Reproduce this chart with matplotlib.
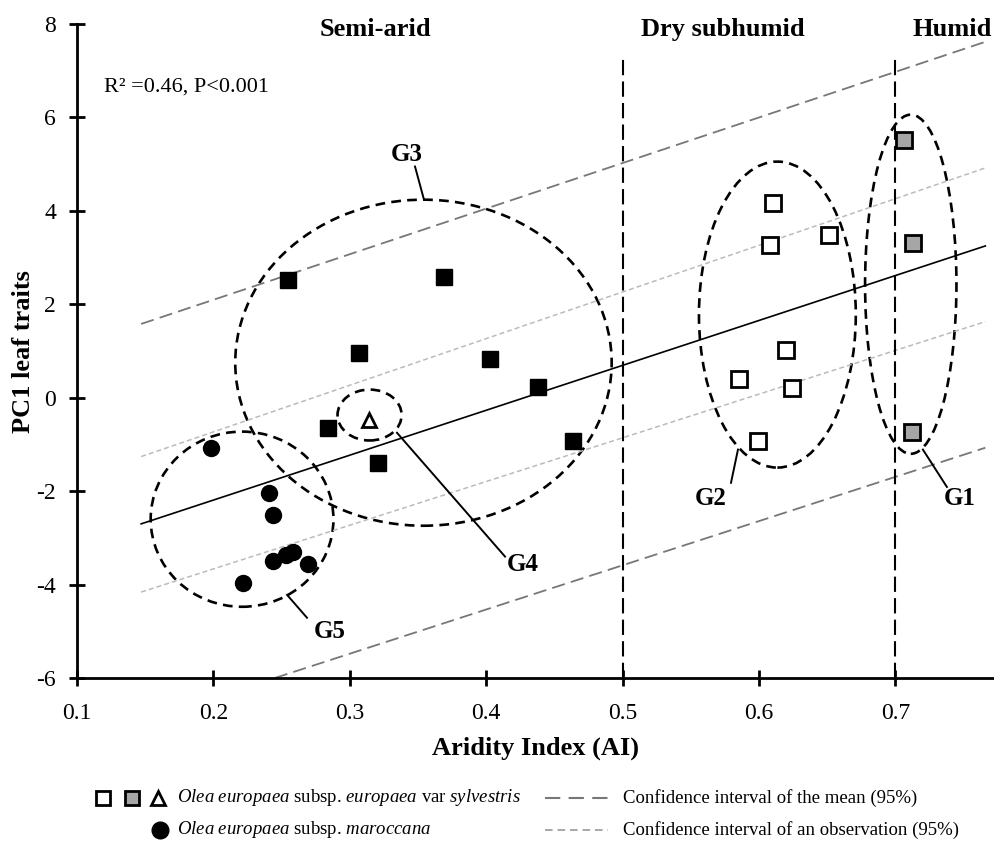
import matplotlib
matplotlib.use('Agg')
import matplotlib.pyplot as plt
from matplotlib.patches import Ellipse
from matplotlib.lines import Line2D

plt.rcParams['font.family'] = ['Liberation Serif', 'DejaVu Serif']
plt.rcParams['mathtext.fontset'] = 'custom'
plt.rcParams['mathtext.rm'] = 'Liberation Serif'
plt.rcParams['mathtext.it'] = 'Liberation Serif:italic'
plt.rcParams['lines.scale_dashes'] = False

# --- data ---
# semi-arid sylvestris (black squares)
blk_x = [0.255, 0.369, 0.307, 0.403, 0.438, 0.284, 0.321, 0.464]
blk_y = [2.53, 2.59, 0.96, 0.84, 0.24, -0.64, -1.39, -0.92]
# dry subhumid sylvestris (open squares)
opn_x = [0.610, 0.608, 0.651, 0.620, 0.585, 0.624, 0.599]
opn_y = [4.17, 3.26, 3.49, 1.03, 0.40, 0.21, -0.92]
# humid sylvestris (grey squares)
gry_x = [0.706, 0.713, 0.712]
gry_y = [5.51, 3.31, -0.74]
# G4 sylvestris (triangle)
tri_x = [0.314]
tri_y = [-0.47]
# maroccana (circles)
cir_x = [0.198, 0.241, 0.244, 0.244, 0.253, 0.258, 0.269, 0.222]
cir_y = [-1.07, -2.03, -2.51, -3.50, -3.36, -3.31, -3.55, -3.96]

# regression and confidence lines (end points)
reg_x = [0.147, 0.766]
reg_y = [-2.70, 3.25]
ci_mean_up_x = [0.147, 0.766]
ci_mean_up_y = [1.58, 7.62]
ci_mean_lo_x = [0.245, 0.766]
ci_mean_lo_y = [-6.0, -1.07]
ci_obs_up_x = [0.147, 0.766]
ci_obs_up_y = [-1.26, 4.92]
ci_obs_lo_x = [0.147, 0.766]
ci_obs_lo_y = [-4.16, 1.63]

# aridity class boundaries
bounds = [0.5, 0.7]
zones = ['Semi-arid', 'Dry subhumid', 'Humid']
zone_x = [0.3185, 0.5736, 0.742]

# groups: name, centre, width, height, label pos, leader line
groups = ['G1', 'G2', 'G3', 'G4', 'G5']
grp_cx = [0.7113, 0.6135, 0.354, 0.3145, 0.221]
grp_cy = [2.43, 1.78, 0.75, -0.37, -2.60]
grp_w = [0.067, 0.115, 0.276, 0.047, 0.134]
grp_h = [7.26, 6.55, 6.98, 1.09, 3.75]
lab_x = [0.7474, 0.5648, 0.342, 0.427, 0.2855]
lab_y = [-2.16, -2.16, 5.20, -3.58, -5.01]
lead_x = [[0.7378, 0.7202], [0.5795, 0.5846], [0.3478, 0.3544], [0.3346, 0.4138], [0.254, 0.2686]]
lead_y = [[-1.91, -1.11], [-1.82, -1.11], [4.95, 4.24], [-0.75, -3.40], [-4.22, -4.71]]

fig = plt.figure(figsize=(9.94, 8.41), dpi=100)
ax = fig.add_axes([0.0775, 0.1938, 0.9215, 0.7776])

# confidence lines
ax.plot(ci_mean_up_x, ci_mean_up_y, color='#777777', lw=1.3, ls=(0, (9.5, 4.5)))
ax.plot(ci_mean_lo_x, ci_mean_lo_y, color='#777777', lw=1.3, ls=(0, (9.5, 4.5)))
ax.plot(ci_obs_up_x, ci_obs_up_y, color='#bbbbbb', lw=1.1, ls=(0, (3.6, 2.2)))
ax.plot(ci_obs_lo_x, ci_obs_lo_y, color='#bbbbbb', lw=1.1, ls=(0, (3.6, 2.2)))
ax.plot(reg_x, reg_y, color='black', lw=1.2)

for b in bounds:
    ax.plot([b, b], [-6, 7.34], color='black', lw=1.5, ls=(0, (11, 4.5)))

for i in range(len(groups)):
    ax.add_patch(Ellipse((grp_cx[i], grp_cy[i]), grp_w[i], grp_h[i], fill=False,
                         edgecolor='black', lw=1.9, ls=(0, (7, 4.5))))
    ax.plot(lead_x[i], lead_y[i], color='black', lw=1.4)
    ax.text(lab_x[i], lab_y[i], groups[i], fontsize=18, fontweight='bold',
            ha='center', va='center')

ax.plot(blk_x, blk_y, 's', color='black', ms=11, mec='black')
ax.plot(opn_x, opn_y, 's', mfc='white', mec='black', mew=2, ms=11.5)
ax.plot(gry_x, gry_y, 's', mfc='#a6a6a6', mec='black', mew=2, ms=11.5)
ax.plot(tri_x, tri_y, '^', mfc='white', mec='black', mew=2, ms=10.5)
ax.plot(cir_x, cir_y, 'o', color='black', ms=11.5)

for z, zx in zip(zones, zone_x):
    ax.text(zx, 7.88, z, fontsize=19, fontweight='bold', ha='center', va='center')

ax.text(0.1198, 6.66, 'R² =0.46, P<0.001', fontsize=16, ha='left', va='center')

ax.set_xlim(0.1, 0.7716)
ax.set_ylim(-6, 8)
ax.set_xticks([0.1, 0.2, 0.3, 0.4, 0.5, 0.6, 0.7])
ax.set_xticklabels(['0.1', '0.2', '0.3', '0.4', '0.5', '0.6', '0.7'])
ax.set_yticks([-6, -4, -2, 0, 2, 4, 6, 8])
ax.set_yticklabels(['-6', '-4', '-2', '0', '2', '4', '6', '8'])
ax.spines['top'].set_visible(False)
ax.spines['right'].set_visible(False)
ax.spines['left'].set_linewidth(2)
ax.spines['bottom'].set_linewidth(2)
ax.tick_params(direction='inout', length=12, width=2, labelsize=17, pad=9)
ax.tick_params(axis='x', pad=12)

ax.set_xlabel('Aridity Index (AI)', fontsize=19, fontweight='bold', labelpad=9)
fig.text(0.024, 0.582, 'PC1 leaf traits', fontsize=19, fontweight='bold',
         rotation=90, ha='center', va='center')

# custom legend below the axes
r1, r2 = 1 - 798 / 841, 1 - 830 / 841
fig.add_artist(Line2D([0.1036], [r1], marker='s', mfc='white', mec='black', mew=2, ms=10.5, ls=''))
fig.add_artist(Line2D([0.1328], [r1], marker='s', mfc='#a6a6a6', mec='black', mew=2, ms=10.5, ls=''))
fig.add_artist(Line2D([0.159], [r1], marker='^', mfc='white', mec='black', mew=2, ms=10.5, ls=''))
fig.add_artist(Line2D([0.161], [r2], marker='o', color='black', ms=12, ls=''))
fig.text(0.178, r1, r'$\mathit{Olea\ europaea}$ subsp. $\mathit{europaea}$ var $\mathit{sylvestris}$',
         fontsize=13.5, ha='left', va='center')
fig.text(0.178, r2, r'$\mathit{Olea\ europaea}$ subsp. $\mathit{maroccana}$',
         fontsize=13.5, ha='left', va='center')
fig.add_artist(Line2D([0.548, 0.612], [r1, r1], color='#777777', lw=1.5, ls=(0, (11, 6))))
fig.add_artist(Line2D([0.548, 0.612], [r2, r2], color='#999999', lw=1.2, ls=(0, (5.5, 3.5))))
fig.text(0.627, r1, 'Confidence interval of the mean (95%)', fontsize=13.5, ha='left', va='center')
fig.text(0.627, r2, 'Confidence interval of an observation (95%)', fontsize=13.5, ha='left', va='center')

fig.savefig('out.png', dpi=100)
